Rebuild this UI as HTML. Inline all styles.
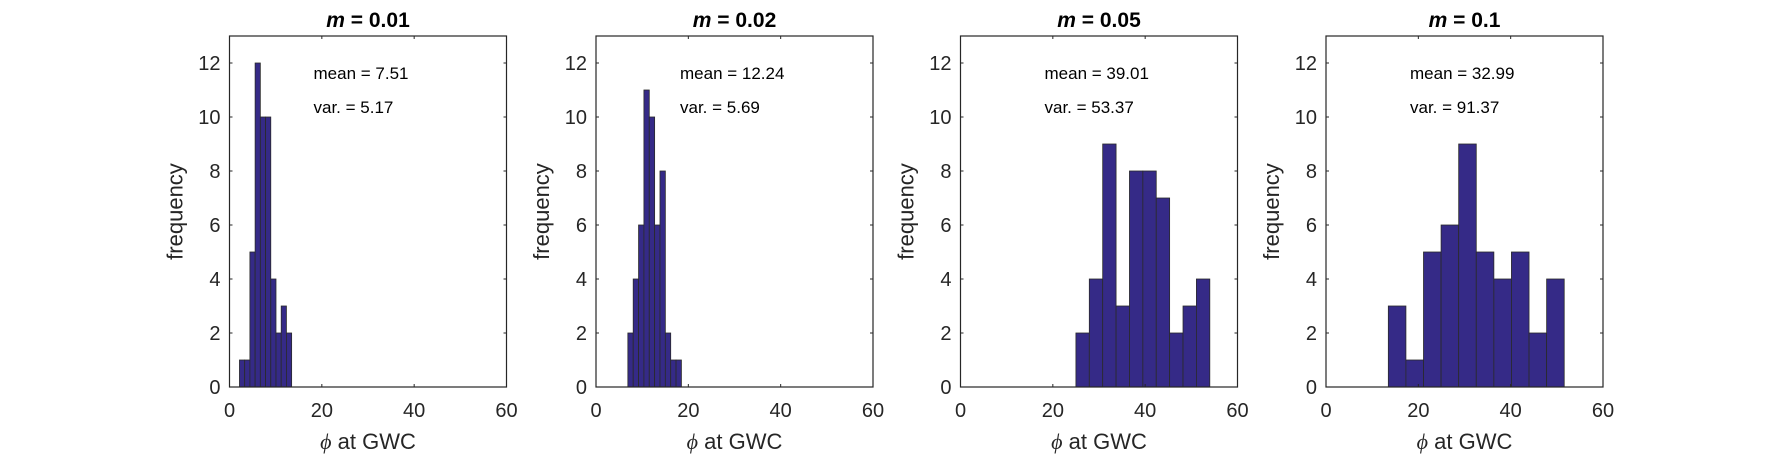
<!DOCTYPE html>
<html><head><meta charset="utf-8"><style>
body{margin:0;background:#fff;width:1770px;height:456px;overflow:hidden}
svg{display:block;font-family:"Liberation Sans",Arial,sans-serif}
</style></head><body>
<svg id="fig" width="1770" height="456"></svg>
<script>
const panelTitles=["0.01","0.02","0.05","0.1"];
const binStarts=[2.16,6.9,25.0,13.5];
const binWidths=[1.13,1.16,2.9,3.81];
const counts1=[1,1,5,12,10,10,4,2,3,2];
const counts2=[2,4,6,11,10,6,8,2,1,1];
const counts3=[2,4,9,3,8,8,7,2,3,4];
const counts4=[3,1,5,6,9,5,4,5,2,4];
const means=["7.51","12.24","39.01","32.99"];
const vars=["5.17","5.69","53.37","91.37"];
const xTicks=[0,20,40,60];
const yTicks=[0,2,4,6,8,10,12];
const allCounts=[counts1,counts2,counts3,counts4];
const lefts=[229.5,596,960.5,1326];
const W=277,yTop=36,yBottom=387,xMax=60,yMax=13;
const NS="http://www.w3.org/2000/svg";
const svg=document.getElementById('fig');
function mk(tag,attrs,parent){const e=document.createElementNS(NS,tag);for(const k in attrs)e.setAttribute(k,attrs[k]);(parent||svg).appendChild(e);return e;}
for(let p=0;p<4;p++){
  const L=lefts[p];
  const xs=v=>L+v/xMax*W;
  const ys=v=>yBottom-v/yMax*(yBottom-yTop);
  const g=mk('g',{});
  
  
  const c=allCounts[p];
  for(let i=0;i<c.length;i++){
    const x0=xs(binStarts[p]+i*binWidths[p]),x1=xs(binStarts[p]+(i+1)*binWidths[p]);
    const r=mk('rect',{x:x0,y:ys(c[i]),width:x1-x0,height:ys(0)-ys(c[i]),fill:'#352a87',stroke:'#2a2a2a','stroke-width':0.8},g);
    
    
  }
  const box=mk('rect',{x:L,y:yTop,width:W,height:yBottom-yTop,fill:'none',stroke:'#262626','stroke-width':1.2},g);
  
  
  xTicks.forEach(t=>{
    const x=xs(t);
    mk('line',{x1:x,x2:x,y1:yBottom,y2:yBottom-3,stroke:'#262626'},g);
    mk('line',{x1:x,x2:x,y1:yTop,y2:yTop+3,stroke:'#262626'},g);
    const tx=mk('text',{x:x,y:417,'font-size':20,'text-anchor':'middle',fill:'#262626'},g);
    tx.textContent=String(t);
    
    
  });
  yTicks.forEach(t=>{
    const y=ys(t);
    mk('line',{x1:L,x2:L+3,y1:y,y2:y,stroke:'#262626'},g);
    mk('line',{x1:L+W,x2:L+W-3,y1:y,y2:y,stroke:'#262626'},g);
    const ty=mk('text',{x:L-9,y:y+7,'font-size':20,'text-anchor':'end',fill:'#262626'},g);
    ty.textContent=String(t);
    
    
  });
  const ti=mk('text',{x:L+W/2,y:27,'font-size':21,'font-weight':'bold','text-anchor':'middle',fill:'#000'},g);
  const tm=mk('tspan',{'font-style':'italic'},ti); tm.textContent='m';
  const tr=mk('tspan',{},ti); tr.textContent=' = '+panelTitles[p];
  
  
  const mt=mk('text',{x:L+84,y:79,'font-size':17,fill:'#000'},g);
  mt.textContent='mean = '+means[p];
  
  
  const vt=mk('text',{x:L+84,y:113,'font-size':17,fill:'#000'},g);
  vt.textContent='var. = '+vars[p];
  
  
  const xl=mk('text',{x:L+W/2,y:449,'font-size':22,'text-anchor':'middle',fill:'#262626'},g);
  const xp=mk('tspan',{'font-family':'Liberation Serif','font-style':'italic'},xl); xp.textContent='ϕ';
  const xr=mk('tspan',{},xl); xr.textContent=' at GWC';
  
  
  const yl=mk('text',{x:0,y:0,'font-size':22,'text-anchor':'middle',fill:'#262626',transform:'translate('+(L-47)+','+((yTop+yBottom)/2)+') rotate(-90)'},g);
  yl.textContent='frequency';
  
  
}
</script>
</body></html>
